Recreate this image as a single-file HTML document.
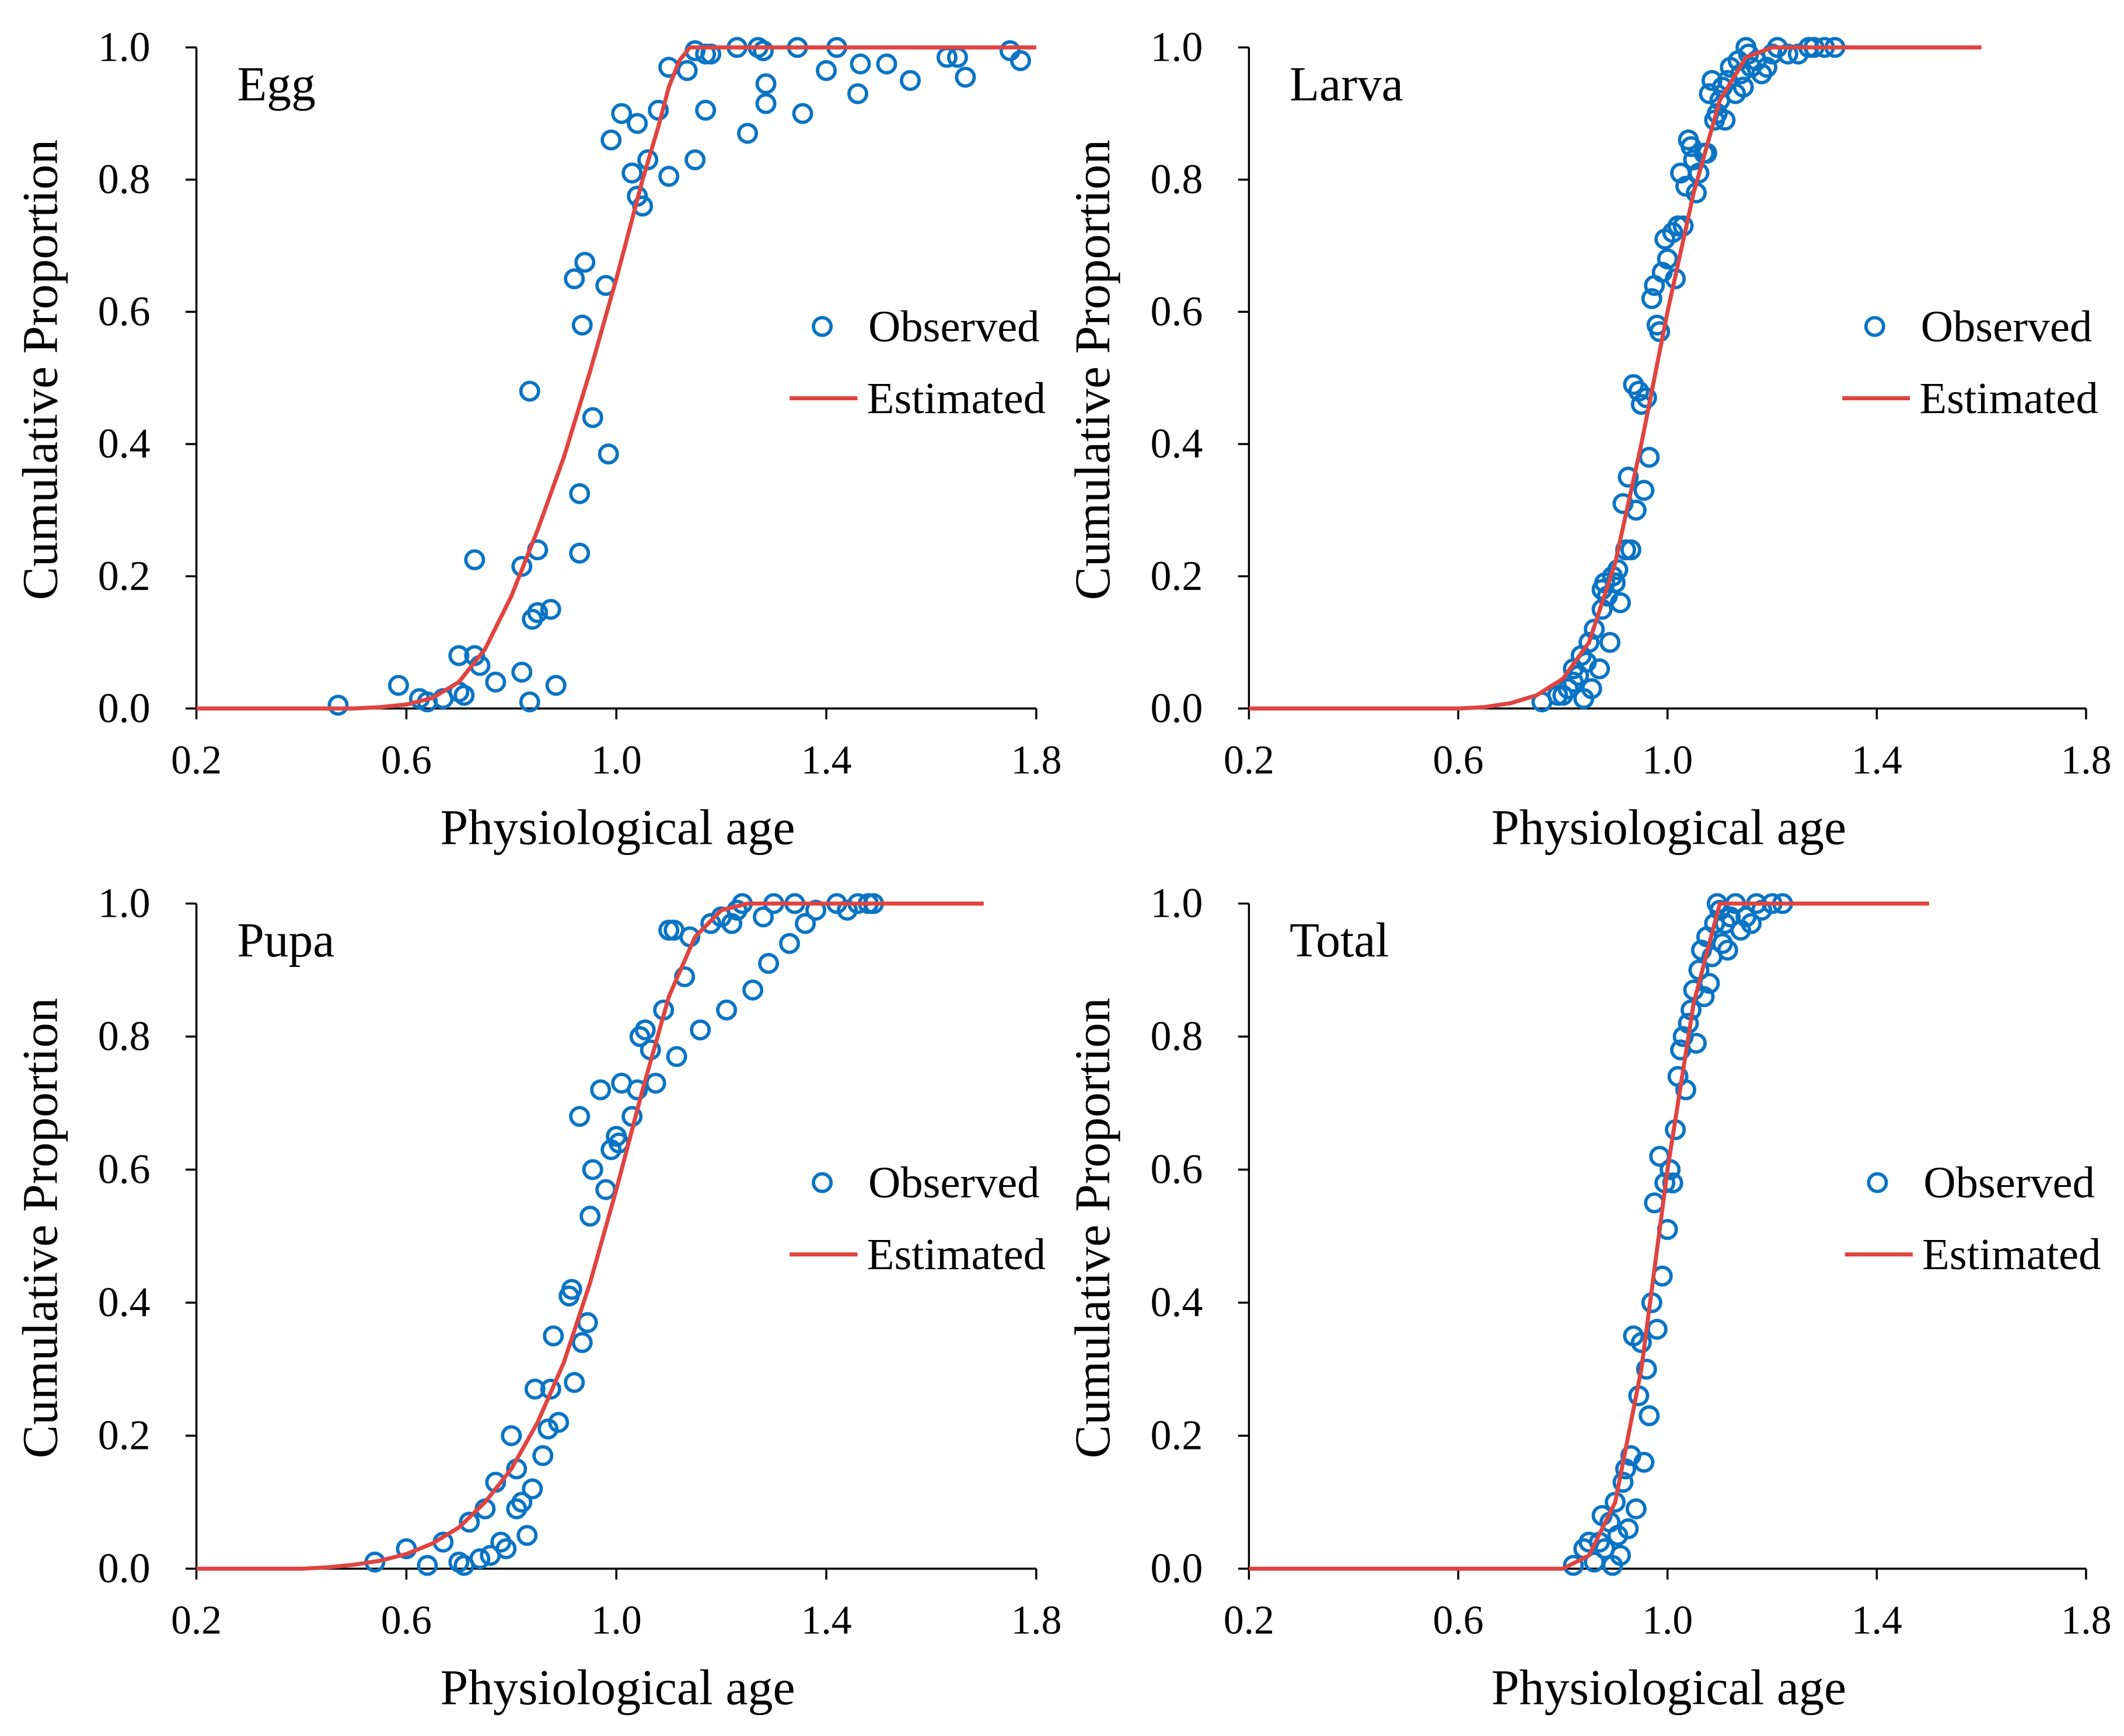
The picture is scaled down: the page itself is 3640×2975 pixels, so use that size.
<!DOCTYPE html>
<html><head><meta charset="utf-8"><style>html,body{margin:0;padding:0;background:#fff}svg{display:block}text{font-family:"Liberation Serif",serif;fill:#000}</style></head>
<body>
<svg id="chart" width="3640" height="2975" viewBox="0 0 1568 1281.5" preserveAspectRatio="none" xmlns="http://www.w3.org/2000/svg"></svg>
<script>
const xTicks=[0.2,0.6,1.0,1.4,1.8];
const yTicks=[0,0.2,0.4,0.6,0.8,1.0];
const panelNames=["Egg","Larva","Pupa","Total"];
const eggObsX=[0.47,0.585,0.625,0.64,0.67,0.70,0.70,0.71,0.73,0.73,0.74,0.77,0.82,0.82,0.835,0.835,0.84,0.85,0.85,0.875,0.885,0.92,0.93,0.93,0.935,0.94,0.955,0.98,0.985,0.99,1.01,1.03,1.04,1.04,1.05,1.06,1.08,1.10,1.10,1.135,1.15,1.15,1.17,1.17,1.18,1.23,1.25,1.27,1.28,1.285,1.285,1.345,1.355,1.40,1.42,1.46,1.465,1.515,1.56,1.63,1.65,1.665,1.75,1.77];
const eggObsY=[0.005,0.035,0.015,0.01,0.015,0.025,0.08,0.02,0.08,0.225,0.065,0.04,0.215,0.055,0.48,0.01,0.135,0.145,0.24,0.15,0.035,0.65,0.235,0.325,0.58,0.675,0.44,0.64,0.385,0.86,0.9,0.81,0.885,0.775,0.76,0.83,0.905,0.805,0.97,0.965,0.83,0.995,0.905,0.99,0.99,1,0.87,1,0.995,0.945,0.915,1,0.9,0.965,1,0.93,0.975,0.975,0.95,0.985,0.985,0.955,0.995,0.98];
const eggEstX=[0.2,0.5,0.55,0.6,0.65,0.7,0.75,0.8,0.85,0.9,0.95,1.0,1.05,1.08,1.1,1.12,1.14,1.8];
const eggEstY=[0,0,0.002,0.006,0.016,0.04,0.09,0.17,0.27,0.38,0.51,0.65,0.8,0.88,0.94,0.98,1.0,1.0];
const larvaObsX=[0.76,0.79,0.80,0.81,0.82,0.82,0.83,0.835,0.84,0.845,0.85,0.855,0.86,0.87,0.875,0.875,0.88,0.885,0.89,0.895,0.9,0.905,0.91,0.915,0.92,0.925,0.93,0.935,0.94,0.945,0.95,0.955,0.96,0.965,0.97,0.975,0.98,0.985,0.99,0.995,1.0,1.01,1.015,1.02,1.025,1.03,1.035,1.04,1.045,1.05,1.055,1.06,1.07,1.075,1.08,1.085,1.09,1.095,1.1,1.105,1.11,1.115,1.12,1.13,1.135,1.14,1.145,1.15,1.155,1.16,1.17,1.18,1.19,1.2,1.21,1.23,1.25,1.27,1.28,1.3,1.32];
const larvaObsY=[0.01,0.02,0.02,0.03,0.04,0.06,0.05,0.08,0.015,0.07,0.1,0.03,0.12,0.06,0.15,0.18,0.19,0.17,0.1,0.2,0.19,0.21,0.16,0.31,0.24,0.35,0.24,0.49,0.3,0.48,0.46,0.33,0.47,0.38,0.62,0.64,0.58,0.57,0.66,0.71,0.68,0.72,0.65,0.73,0.81,0.73,0.79,0.86,0.85,0.83,0.78,0.81,0.84,0.84,0.93,0.95,0.89,0.9,0.92,0.94,0.89,0.95,0.97,0.93,0.98,0.96,0.94,1,0.99,0.97,0.98,0.96,0.97,0.99,1,0.99,0.99,1,1,1,1];
const larvaEstX=[0.2,0.6,0.65,0.7,0.75,0.8,0.85,0.9,0.95,1.0,1.05,1.1,1.15,1.2,1.6];
const larvaEstY=[0,0,0.002,0.008,0.02,0.045,0.1,0.22,0.4,0.6,0.78,0.92,0.985,1,1];
const pupaObsX=[0.54,0.6,0.64,0.67,0.7,0.71,0.72,0.74,0.75,0.76,0.77,0.78,0.79,0.8,0.81,0.81,0.82,0.83,0.84,0.845,0.86,0.87,0.875,0.88,0.89,0.91,0.915,0.92,0.93,0.935,0.945,0.95,0.955,0.97,0.98,0.99,1.0,1.005,1.01,1.03,1.04,1.045,1.055,1.065,1.075,1.09,1.1,1.11,1.115,1.13,1.14,1.16,1.18,1.2,1.21,1.22,1.23,1.24,1.26,1.28,1.29,1.3,1.33,1.34,1.36,1.38,1.42,1.44,1.46,1.48,1.49];
const pupaObsY=[0.01,0.03,0.005,0.04,0.01,0.005,0.07,0.015,0.09,0.02,0.13,0.04,0.03,0.2,0.15,0.09,0.1,0.05,0.12,0.27,0.17,0.21,0.27,0.35,0.22,0.41,0.42,0.28,0.68,0.34,0.37,0.53,0.6,0.72,0.57,0.63,0.65,0.64,0.73,0.68,0.72,0.8,0.81,0.78,0.73,0.84,0.96,0.96,0.77,0.89,0.95,0.81,0.97,0.98,0.84,0.97,0.99,1,0.87,0.98,0.91,1,0.94,1,0.97,0.99,1,0.99,1,1,1];
const pupaEstX=[0.2,0.4,0.45,0.5,0.55,0.6,0.65,0.7,0.75,0.8,0.85,0.9,0.95,1.0,1.05,1.1,1.15,1.2,1.25,1.7];
const pupaEstY=[0,0,0.002,0.006,0.012,0.022,0.038,0.062,0.1,0.15,0.22,0.31,0.43,0.57,0.72,0.86,0.95,0.99,1,1];
const totalObsX=[0.82,0.84,0.85,0.86,0.87,0.875,0.88,0.89,0.895,0.9,0.905,0.91,0.915,0.92,0.925,0.93,0.935,0.94,0.945,0.95,0.955,0.96,0.965,0.97,0.975,0.98,0.985,0.99,0.995,1.0,1.005,1.01,1.015,1.02,1.025,1.03,1.035,1.04,1.045,1.05,1.055,1.06,1.065,1.07,1.075,1.08,1.085,1.09,1.095,1.1,1.105,1.11,1.115,1.12,1.13,1.14,1.15,1.16,1.17,1.18,1.2,1.22];
const totalObsY=[0.005,0.03,0.04,0.01,0.04,0.08,0.03,0.07,0.005,0.1,0.05,0.02,0.13,0.15,0.06,0.17,0.35,0.09,0.26,0.34,0.16,0.3,0.23,0.4,0.55,0.36,0.62,0.44,0.58,0.51,0.6,0.58,0.66,0.74,0.78,0.8,0.72,0.82,0.84,0.87,0.79,0.9,0.93,0.86,0.95,0.88,0.92,0.97,1,0.99,0.94,0.97,0.93,0.98,1,0.96,0.98,0.97,1,0.99,1,1];
const totalEstX=[0.2,0.8,0.85,0.9,0.95,1.0,1.05,1.1,1.5];
const totalEstY=[0,0,0.02,0.1,0.3,0.6,0.85,1,1];

const NS="http://www.w3.org/2000/svg";
const svg=document.getElementById('chart');
function mk(tag,attrs,parent,text){const e=document.createElementNS(NS,tag);for(const k in attrs)e.setAttribute(k,attrs[k]);if(text!==undefined)e.textContent=text;parent.appendChild(e);return e;}
const panels=[
 {key:'egg',x0:145,x1:765,yTop:35,yBot:523,ox:eggObsX,oy:eggObsY,ex:eggEstX,ey:eggEstY,legX:583},
 {key:'larva',x0:922,x1:1540,yTop:35,yBot:523,ox:larvaObsX,oy:larvaObsY,ex:larvaEstX,ey:larvaEstY,legX:1360},
 {key:'pupa',x0:145,x1:765,yTop:667,yBot:1158,ox:pupaObsX,oy:pupaObsY,ex:pupaEstX,ey:pupaEstY,legX:583},
 {key:'total',x0:922,x1:1540,yTop:667,yBot:1158,ox:totalObsX,oy:totalObsY,ex:totalEstX,ey:totalEstY,legX:1362}
];
panels.forEach((p,i)=>{
 const xs=v=>p.x0+(v-0.2)/1.6*(p.x1-p.x0);
 const ys=v=>p.yBot-v*(p.yBot-p.yTop);
 const g=mk('g',{},svg);
 
 
 const ax=mk('line',{x1:p.x0,y1:p.yBot,x2:p.x1,y2:p.yBot,stroke:'#000','stroke-width':1.5},g);
 
 const ay=mk('line',{x1:p.x0,y1:p.yTop,x2:p.x0,y2:p.yBot,stroke:'#000','stroke-width':1.5},g);
 
 xTicks.forEach(t=>{
  mk('line',{x1:xs(t),y1:p.yBot,x2:xs(t),y2:p.yBot+8,stroke:'#000','stroke-width':1.5},g);
  const tl=mk('text',{x:xs(t),y:p.yBot+48,'text-anchor':'middle','font-size':30},g,t.toFixed(1));
  
 });
 yTicks.forEach(t=>{
  mk('line',{x1:p.x0-8,y1:ys(t),x2:p.x0,y2:ys(t),stroke:'#000','stroke-width':1.5},g);
  const tl=mk('text',{x:p.x0-34,y:ys(t)+10,'text-anchor':'end','font-size':31},g,t.toFixed(1));
  
 });
 const cx=p.x0-103, cy=(p.yTop+p.yBot)/2-6;
 const yt=mk('text',{x:cx,y:cy,'text-anchor':'middle','font-size':37,transform:`rotate(-90 ${cx} ${cy})`},g,'Cumulative Proportion');
 
 const xt=mk('text',{x:(p.x0+p.x1)/2+1,y:p.yBot+100,'text-anchor':'middle','font-size':37},g,'Physiological age');
 
 const lb=mk('text',{x:p.x0+30,y:p.yTop+39,'font-size':36},g,panelNames[i]);
 
 p.ox.forEach((v,j)=>{
  const c=mk('circle',{cx:xs(v),cy:ys(p.oy[j]),r:6.5,fill:'none',stroke:'#0a74c4','stroke-width':2.5},g);
  
  
 });
 const d=p.ex.map((v,j)=>(j?'L':'M')+xs(v).toFixed(2)+' '+ys(p.ey[j]).toFixed(2)).join(' ');
 const ln=mk('path',{d:d,fill:'none',stroke:'#e04440','stroke-width':3,'stroke-linejoin':'round'},g);
 
 
 const ly1=p.yTop+206, ly2=p.yTop+259;
 const lg=mk('g',{},g);
 
 mk('circle',{cx:p.legX+24,cy:ly1,r:6.5,fill:'none',stroke:'#0a74c4','stroke-width':2.5},lg);
 const t1=mk('text',{x:p.legX+58,y:ly1+11,'font-size':33},lg,'Observed');
 
 mk('line',{x1:p.legX,y1:ly2,x2:p.legX+50,y2:ly2,stroke:'#e04440','stroke-width':3},lg);
 const t2=mk('text',{x:p.legX+57,y:ly2+11,'font-size':33},lg,'Estimated');
 
});
</script>
</body></html>
